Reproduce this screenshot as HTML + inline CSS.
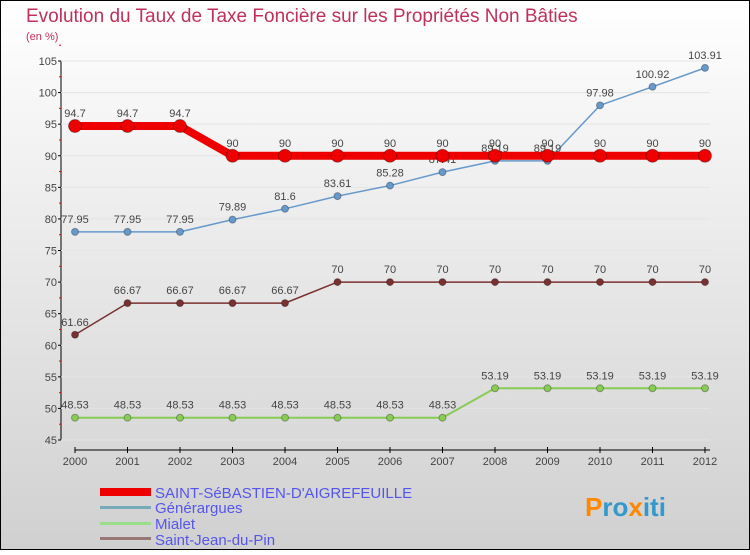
<!DOCTYPE html>
<html><head><meta charset="utf-8"><style>
body{margin:0;width:750px;height:550px;overflow:hidden;font-family:"Liberation Sans",sans-serif}
</style></head><body>
<svg id="c" width="750" height="550" xmlns="http://www.w3.org/2000/svg">
<defs><linearGradient id="bg" x1="0" y1="0" x2="0" y2="1"><stop offset="0" stop-color="#ffffff"/><stop offset="1" stop-color="#d0d0d0"/></linearGradient></defs>
<rect x="0.5" y="0.5" width="749" height="549" fill="url(#bg)" stroke="#000"/>
<text x="26" y="22" font-size="19" fill="#c0305a">Evolution du Taux de Taxe Foncière sur les Propriétés Non Bâties</text>
<text x="26" y="40" font-size="11" fill="#c0305a">(en %)</text>
<g id="axes"></g><g id="series"></g>
<g>
<rect x="100" y="488" width="51" height="8" fill="#e00"/>
<text x="155" y="498" font-size="15" fill="#5555ee">SAINT-SéBASTIEN-D'AIGREFEUILLE</text>
<rect x="100" y="506" width="51" height="3" fill="#7ab"/>
<text x="155" y="513" font-size="15" fill="#5555ee">Générargues</text>
<rect x="100" y="522" width="51" height="3" fill="#9d8"/>
<text x="155" y="529" font-size="15" fill="#5555ee">Mialet</text>
<rect x="100" y="537" width="51" height="3" fill="#977"/>
<text x="155" y="545" font-size="15" fill="#5555ee">Saint-Jean-du-Pin</text>
</g>
<text x="585" y="516" font-size="26" font-weight="bold" fill="#3a9"><tspan fill="#f80">P</tspan><tspan fill="#39c">ro</tspan><tspan fill="#f80">x</tspan><tspan fill="#39c">iti</tspan></text>
</svg>
<script>
const years=[2000,2001,2002,2003,2004,2005,2006,2007,2008,2009,2010,2011,2012];
const yTicks=[45,50,55,60,65,70,75,80,85,90,95,100,105];
const stSebastien=[94.7,94.7,94.7,90,90,90,90,90,90,90,90,90,90];
const generargues=[77.95,77.95,77.95,79.89,81.6,83.61,85.28,87.41,89.19,89.19,97.98,100.92,103.91];
const mialet=[48.53,48.53,48.53,48.53,48.53,48.53,48.53,48.53,53.19,53.19,53.19,53.19,53.19];
const stJean=[61.66,66.67,66.67,66.67,66.67,70,70,70,70,70,70,70,70];
const NS="http://www.w3.org/2000/svg";
const xS=i=>75+i*52.5;
const yS=v=>440-(v-45)*(379/60);
function mk(p,t,a){const e=document.createElementNS(NS,t);for(const k in a)e.setAttribute(k,a[k]);p.appendChild(e);return e;}
const ax=document.getElementById('axes');
let e=mk(ax,'line',{x1:61,y1:yS(105),x2:61,y2:yS(45),stroke:'#000'});


e=mk(ax,'line',{x1:75,y1:450,x2:710,y2:450,stroke:'#000'});


yTicks.forEach(v=>{
 mk(ax,'line',{x1:58,x2:61,y1:yS(v),y2:yS(v),stroke:'#000'});
 mk(ax,'line',{x1:59,x2:61,y1:yS(v+2.5),y2:yS(v+2.5),stroke:'#e00'});
 mk(ax,'line',{x1:61,x2:710,y1:yS(v),y2:yS(v),stroke:'#e4e4e4'});
 const t=mk(ax,'text',{x:57,y:yS(v)+4,'font-size':11,'text-anchor':'end',fill:'#444'});
 t.textContent=v;
 
 
});
years.forEach((y,i)=>{
 mk(ax,'line',{x1:xS(i),x2:xS(i),y1:447,y2:453,stroke:'#000'});
 const t=mk(ax,'text',{x:xS(i),y:465,'font-size':11,'text-anchor':'middle',fill:'#444'});
 t.textContent=y;
 
 
});
const sg=document.getElementById('series');
function series(data,col,w,r,name){
 const g=mk(sg,'g',{});
 
 
 mk(g,'polyline',{points:data.map((v,i)=>xS(i)+','+yS(v)).join(' '),fill:'none',stroke:col,'stroke-width':w,'stroke-linejoin':'round'});
 data.forEach((v,i)=>{
  const c=mk(g,'circle',{cx:xS(i),cy:yS(v),r:r,fill:col,stroke:'rgba(0,0,0,0.3)'});
  
  
  const t=mk(g,'text',{x:xS(i),y:yS(v)-9,'font-size':11,'text-anchor':'middle',fill:'#444'});
  t.textContent=String(v).replace('.', '.');
  
  
 });
}
series(mialet,'#88cc55',2,3.5,'series-mialet');
series(stJean,'#7a3030',1.5,3.5,'series-saint-jean');
series(generargues,'#6699cc',1.5,3.5,'series-generargues');
series(stSebastien,'#ee0000',8,6.5,'series-saint-sebastien');
</script>
</body></html>
